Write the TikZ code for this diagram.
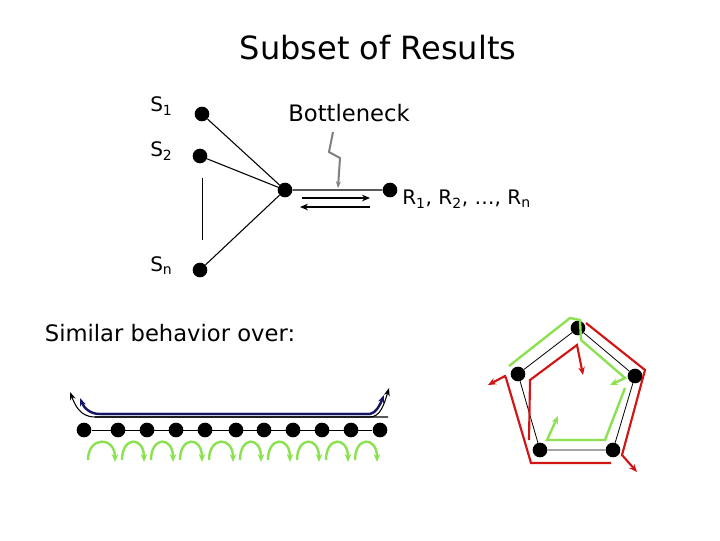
\documentclass[tikz,border=0pt]{standalone}
\usepackage{fontspec}
\setmainfont{DejaVu Sans}
\usetikzlibrary{arrows.meta}
\definecolor{lg}{RGB}{140,225,80}
\definecolor{rd}{RGB}{210,20,20}
\definecolor{nv}{RGB}{20,20,100}
\newcommand{\sbs}[1]{\textsubscript{#1}}
\tikzset{dot/.style={circle,fill=black,inner sep=0pt,minimum width=9pt,minimum height=11pt},
lbl/.style={inner sep=0pt,font=\fontsize{15}{15}\selectfont},
tip/.style={-{Stealth[length=6pt,width=5pt]}},
gpath/.style={lg,line width=1.8pt,tip},
rpath/.style={rd,line width=1.6pt,tip}}
\begin{document}
\begin{tikzpicture}[x=0.75pt,y=-0.75pt]
\useasboundingbox (0,0) rectangle (720,540);
\node[inner sep=0pt,font=\fontsize{24}{24}\selectfont] (title) at (378,48) {Subset of Results};
\node[dot] (s1) at (202,114) {};
\node[dot] (s2) at (200,156) {};
\node[dot] (c) at (285,190) {};
\node[dot] (r) at (390,190) {};
\node[dot] (sn) at (200,270) {};
\node[lbl,anchor=west] (ls1) at (150,106) {S\sbs{1}};
\node[lbl,anchor=west] (ls2) at (150,151) {S\sbs{2}};
\node[lbl,anchor=west] (lsn) at (150,266) {S\sbs{n}};
\node[lbl,anchor=west] (lr) at (402,199) {R\sbs{1}, R\sbs{2}, …, R\sbs{n}};
\node[lbl,font=\fontsize{17}{17}\selectfont] (bn) at (349,113) {Bottleneck};
\draw[thick] (s1)--(c) (s2)--(c) (sn)--(c) (c)--(r);
\draw (202,178)--(202,240);
\draw[gray,line width=1.5pt,-{Stealth[length=5pt]}] (333,132)--(329,152)--(340,158)--(338,188);
\draw[thick,tip] (302,198)--(370,198);
\draw[thick,tip] (370,207)--(300,207);
\node[inner sep=0pt,font=\fontsize{17}{17}\selectfont] (sim) at (170,333) {Similar behavior over:};
% chain
\foreach \i/\x in {0/84,1/118,2/147,3/176,4/205,5/236,6/264,7/293,8/322,9/351,10/380}{\node[dot] (d\i) at (\x,430) {};}
\draw (d0)--(d10);
\foreach \a/\b in {84/118,118/147,147/176,176/205,205/236,236/264,264/293,293/322,322/351,351/380}{
 \draw[gpath] (\a+4,460) .. controls (\a+4,436) and (\b-3,436) .. (\b-3,462);}
\draw[thick,-{Stealth[length=6pt]}] (388,417)--(95,417) .. controls (80,417) and (75,405) .. (70,392);
\draw[thick,-{Stealth[length=6pt]}] (95,417)--(370,417) .. controls (380,417) and (384,405) .. (389,388);
\draw[nv,line width=1.8pt,-{Stealth[length=6pt]}] (370,414)--(100,414) .. controls (90,414) and (84,408) .. (80,398);
\draw[nv,line width=1.8pt,-{Stealth[length=6pt]}] (100,414)--(370,414) .. controls (376,413) and (380,405) .. (384,395);
% pentagon
\node[dot] (p1) at (578,328) {};
\node[dot] (p2) at (518,374) {};
\node[dot] (p3) at (635,376) {};
\node[dot] (p4) at (540,450) {};
\node[dot] (p5) at (613,450) {};
\draw[semithick] (p1)--(p3)--(p5)--(p4)--(p2)--(p1);
\draw[gpath] (509,366)--(570,318)--(580,320)--(581,340)--(625,378)--(610,385);
\draw[gpath] (625,388)--(605,440)--(547,440)--(558,416);
\draw[rpath] (586,323)--(645,370)--(622,455)--(637,472);
\draw[rpath] (611,463)--(531,463)--(506,378)--(505,376)--(488,385);
\draw[rpath] (529,440)--(530,380)--(577,345)--(583,375);
\end{tikzpicture}
\end{document}
